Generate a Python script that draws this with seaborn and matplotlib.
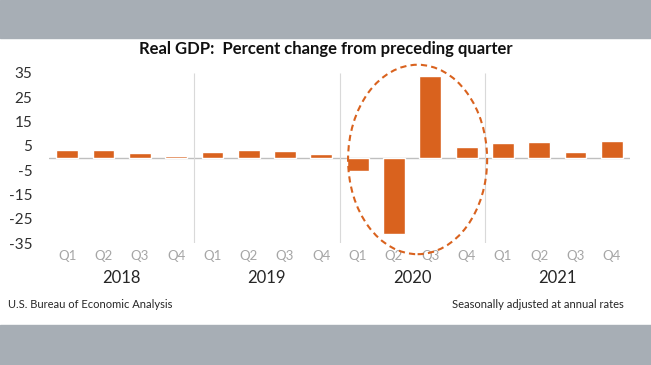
import pandas as pd
import matplotlib.pyplot as plt
import seaborn as sns
from matplotlib.patches import Ellipse, Rectangle
from matplotlib.transforms import blended_transform_factory

# data
years = ["2018", "2019", "2020", "2021"]
quarters = ["Q1", "Q2", "Q3", "Q4"]
gdp_change = [3.1, 3.4, 1.9, 0.9,
              2.4, 3.1, 2.8, 1.7,
              -5.3, -31.4, 33.9, 4.5,
              6.3, 6.7, 2.3, 6.9]
y_ticks = [35, 25, 15, 5, -5, -15, -25, -35]

orange = "#D9621E"
band = "#A7AEB5"

df = pd.DataFrame({
    "period": [f"{y} {q}" for y in years for q in quarters],
    "change": gdp_change,
})

sns.set_style("white")
plt.rcParams["font.family"] = ["Lato", "DejaVu Sans"]

fig = plt.figure(figsize=(6.51, 3.65), dpi=100)
ax = fig.add_axes([0.0753, 0.3342, 0.8925, 0.4658])

sns.barplot(data=df, x="period", y="change", color=orange, saturation=1,
            width=0.6, ax=ax)

ax.set_xlim(-0.5, len(df) - 0.5)
ax.set_ylim(-35, 35)
ax.set_yticks(y_ticks)
ax.set_yticklabels([str(v) for v in y_ticks], fontsize=11, color="#303030")
ax.set_xticks(range(len(df)))
ax.set_xticklabels(quarters * len(years), fontsize=9.5, color="#A6A6A6")
ax.tick_params(axis="both", length=0)
ax.tick_params(axis="y", pad=12)
ax.tick_params(axis="x", pad=5)
ax.set_xlabel("")
ax.set_ylabel("")
for s in ax.spines.values():
    s.set_visible(False)

# zero line and year separators
ax.axhline(0, color="#BFBFBF", lw=1, zorder=0)
for i in range(1, len(years)):
    ax.vlines(i * 4 - 0.5, -35, 35, color="#D9D9D9", lw=0.8, zorder=0)

# year labels
trans = blended_transform_factory(ax.transData, ax.transAxes)
for i, y in enumerate(years):
    ax.text(i * 4 + 1.5, -0.205, y, transform=trans, ha="center", va="center",
            fontsize=12, color="#262626")

# highlight the 2020 swing
ax.add_patch(Ellipse((9.65, -0.6), 3.83, 78, fill=False, ls=(0, (3, 2)),
                     ec=orange, lw=1.5, clip_on=False))

# grey bands top and bottom
fig.patches.append(Rectangle((0, 1 - 38 / 365), 1, 38 / 365, transform=fig.transFigure,
                             color=band, zorder=-1))
fig.patches.append(Rectangle((0, 0), 1, 40 / 365, transform=fig.transFigure,
                             color=band, zorder=-1))

fig.text(0.5, 1 - 49 / 365, "Real GDP:  Percent change from preceding quarter",
         ha="center", va="center", fontsize=12, fontweight="bold", color="#111111")
fig.text(8 / 651, 1 - 305 / 365, "U.S. Bureau of Economic Analysis",
         ha="left", va="center", fontsize=8, color="#262626")
fig.text(624 / 651, 1 - 305 / 365, "Seasonally adjusted at annual rates",
         ha="right", va="center", fontsize=8, color="#262626")

fig.savefig("out.png", dpi=100)
